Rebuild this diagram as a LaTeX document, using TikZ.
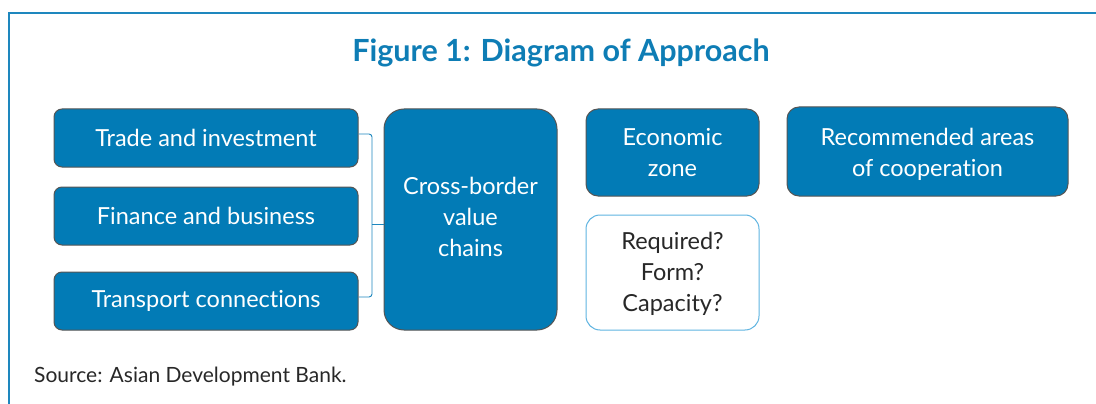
\documentclass[tikz,border=0pt]{standalone}
\usepackage{fontspec}
\setmainfont{Lato}[Ligatures=NoCommon]
\definecolor{adbblue}{RGB}{2,123,182}
\definecolor{titleblue}{RGB}{14,125,181}
\definecolor{framecol}{RGB}{30,135,190}
\definecolor{lightblue}{RGB}{95,180,225}
\definecolor{edgegray}{RGB}{85,85,85}
\definecolor{txtgray}{RGB}{40,40,40}
\begin{document}
\begin{tikzpicture}[x=1pt,y=-1pt,
  bluebox/.style={draw=edgegray,line width=1pt,fill=adbblue,text=white,align=center,
    inner sep=0pt,font=\fontsize{23.5}{31}\selectfont},
  qbox/.style={draw=lightblue,line width=1pt,fill=white,text=txtgray,align=center,
    inner sep=0pt,font=\fontsize{23.5}{31}\selectfont},
  boxtext/.style={align=center,inner sep=0pt,font=\fontsize{23.5}{31}\selectfont},
  bracket/.style={draw=framecol,line width=0.9pt,rounded corners=3pt}]
\useasboundingbox (0,0) rectangle (1096,404);
\fill[white] (0,0) rectangle (1096,404);
% frame
\draw[framecol,line width=1.2pt] (9,404) -- (9,13) -- (1096,13);
% title
\node[font=\fontsize{30.5}{36}\selectfont\bfseries,text=titleblue] (title) at (561,53) {Figure 1: Diagram of Approach};
% left boxes
\node[bluebox,rounded corners=8pt,minimum width=304pt,minimum height=58pt] (trade) at (206,138) {Trade and investment};
\node[bluebox,rounded corners=8pt,minimum width=304pt,minimum height=58pt] (fin) at (206,216) {Finance and business};
\node[bluebox,rounded corners=8pt,minimum width=304pt,minimum height=58pt] (trans) at (206,301) {Transport connections};
% center box
\node[bluebox,rounded corners=20pt,minimum width=173pt,minimum height=221pt] (cbvc) at (470.5,219.5) {};
\node[boxtext,text=white] (cbvct) at (470.5,216.5) {Cross-border\\value\\chains};
% right boxes
\node[bluebox,rounded corners=12pt,minimum width=173pt,minimum height=87pt] (ez) at (672.5,152.5) {Economic\\zone};
\node[qbox,rounded corners=14pt,minimum width=173pt,minimum height=115pt] (req) at (672.5,272.5) {};
\node[boxtext,text=txtgray] (reqt) at (672.5,274) {Required?\\Form?\\Capacity?};
\node[bluebox,rounded corners=12pt,minimum width=281pt,minimum height=89pt] (rec) at (927.5,151.5) {};
\node[boxtext,text=white] (rect) at (927.5,154) {Recommended areas\\of cooperation};
% bracket
\coordinate (bx) at (372,224);
\draw[bracket] ([yshift=4pt]trade.east) -- ([yshift=4pt]trade.east -| bx) -- ([yshift=4pt]trans.east -| bx) -- ([yshift=4pt]trans.east);
\draw[framecol,line width=0.9pt] (bx) -- (bx -| cbvc.west);
% source
\node[anchor=base west,font=\fontsize{21}{25}\selectfont,text=txtgray,inner sep=0pt] (src) at (34,382) {Source: Asian Development Bank.};
\end{tikzpicture}
\end{document}
